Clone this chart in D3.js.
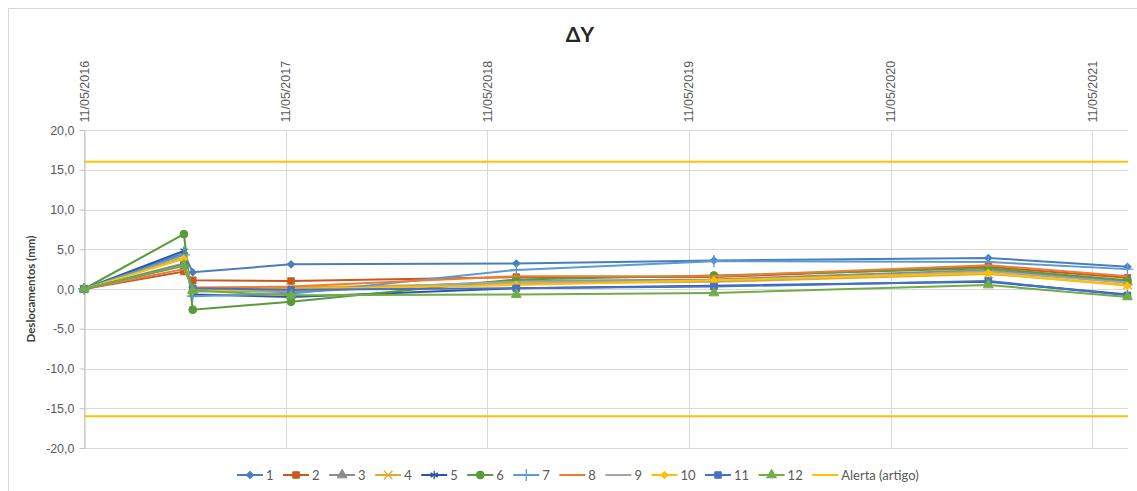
<!DOCTYPE html>
<html lang="pt">
<head>
    <meta charset="UTF-8">
    <title>ΔY</title>
    <script src="https://d3js.org/d3.v7.min.js"></script>
    <style>
        body { margin: 0; background: #fff; }
        svg { font-family: Lato, "Open Sans", sans-serif; }
        .grid line { stroke: #d9d9d9; stroke-width: 1px; }
        .axis path, .axis line { stroke: #bfbfbf; }
        .axis text { fill: #595959; font-size: 12.5px; }
        .serie { fill: none; stroke-width: 2px; }
    </style>
</head>
<body>
<svg id="chart"></svg>
<script>
    // datas das leituras
    const dates = ["2016-05-11", "2016-11-08", "2016-11-24", "2017-05-21", "2018-07-03", "2019-06-26", "2020-11-04", "2021-07-14"];

    // deslocamentos (mm) por ponto
    const s1  = [0, 4.5,  2.1,  3.1,  3.2,  3.6, 3.9,  2.8];
    const s2  = [0, 2.2,  1.1,  1.0,  1.5,  1.5, 2.8,  1.4];
    const s3  = [0, 3.2, -0.1, -0.4,  1.0,  1.2, 2.4,  0.9];
    const s4  = [0, 4.0, -0.3,  0.2,  0.7,  0.9, 1.9,  0.5];
    const s5  = [0, 4.8, -0.7, -1.0,  0.1,  0.4, 0.9, -0.7];
    const s6  = [0, 6.9, -2.6, -1.6,  1.2,  1.7, 2.6,  1.1];
    const s7  = [0, 4.3, -0.9, -0.6,  2.4,  3.5, 3.4,  2.5];
    const s8  = [0, 2.5,  0.2,  0.3,  1.6,  1.6, 3.0,  1.6];
    const s9  = [0, 2.9, -0.3, -0.2,  0.9,  1.0, 2.2,  0.8];
    const s10 = [0, 3.8, -0.2,  0.0,  0.5,  1.1, 2.0,  0.4];
    const s11 = [0, 3.0,  0.1, -0.1,  0.1,  0.3, 1.0, -0.8];
    const s12 = [0, 3.0, -0.2, -0.8, -0.7, -0.5, 0.5, -1.0];

    const seriesNames = ["1", "2", "3", "4", "5", "6", "7", "8", "9", "10", "11", "12"];
    const seriesValues = [s1, s2, s3, s4, s5, s6, s7, s8, s9, s10, s11, s12];

    const alertName = "Alerta (artigo)";
    const alertLevels = [16, -16];

    const xTicks = ["2016-05-11", "2017-05-11", "2018-05-11", "2019-05-11", "2020-05-11", "2021-05-11"];
    const xDomain = ["2016-05-11", "2021-07-15"];
    const yTicks = [20, 15, 10, 5, 0, -5, -10, -15, -20];

    const colors = ["#4a7ebb", "#c65a1e", "#8c8c8c", "#e0a82e", "#2f55a4", "#5a9a3a",
                    "#5b9bd5", "#ed7d31", "#a5a5a5", "#ffc000", "#4472c4", "#70ad47"];
    const alertColor = "#ffc000";
    // tipo de marcador por série (null = sem marcador)
    const markers = ["diamond", "square", "triangle", "times", "asterisk", "circle",
                     "plus", null, null, "diamond", "square", "triangle"];

    const parse = d3.timeParse("%Y-%m-%d");
    const fmtDate = d3.timeFormat("%d/%m/%Y");
    const fmtY = d => d3.format(".1f")(d).replace(".", ",").replace("−", "-");

    const W = 1137, H = 491;
    const plot = { left: 84, right: 1128, top: 130, bottom: 448 };

    const svg = d3.select("#chart").attr("width", W).attr("height", H);

    // borda do gráfico
    svg.append("rect")
        .attr("x", 8.5).attr("y", 8.5)
        .attr("width", W + 20).attr("height", H + 20)
        .attr("fill", "none").attr("stroke", "#d9d9d9");

    const x = d3.scaleTime()
        .domain(xDomain.map(parse))
        .range([plot.left, plot.right]);

    const y = d3.scaleLinear()
        .domain([-20, 20])
        .range([plot.bottom, plot.top]);

    // grelha
    const grid = svg.append("g").attr("class", "grid");
    grid.selectAll(".h").data(yTicks).enter().append("line")
        .attr("x1", plot.left).attr("x2", plot.right)
        .attr("y1", d => Math.round(y(d)) + 0.5).attr("y2", d => Math.round(y(d)) + 0.5);
    grid.selectAll(".v").data(xTicks).enter().append("line")
        .attr("x1", d => Math.round(x(parse(d))) + 0.5).attr("x2", d => Math.round(x(parse(d))) + 0.5)
        .attr("y1", plot.top).attr("y2", plot.bottom);

    // eixo y
    svg.append("g")
        .attr("class", "axis")
        .attr("transform", "translate(" + (plot.left + 0.5) + ",0)")
        .call(d3.axisLeft(y).tickValues(yTicks).tickFormat(fmtY).tickSize(5).tickSizeOuter(0).tickPadding(5));

    // eixo x (rótulos no topo)
    const xAxis = svg.append("g")
        .attr("class", "axis")
        .attr("transform", "translate(0," + (plot.top + 0.5) + ")")
        .call(d3.axisTop(x).tickValues(xTicks.map(parse)).tickFormat(fmtDate).tickSize(0).tickSizeOuter(0));
    xAxis.select(".domain").remove();
    xAxis.selectAll("text")
        .attr("transform", "rotate(-90)")
        .attr("x", 8)
        .attr("y", 0)
        .attr("dy", "0.35em")
        .style("text-anchor", "start");

    // título do eixo y
    svg.append("text")
        .attr("transform", "translate(35," + y(0) + ") rotate(-90)")
        .attr("text-anchor", "middle")
        .attr("font-size", "11.5px")
        .attr("font-weight", "bold")
        .attr("fill", "#404040")
        .text("Deslocamentos (mm)");

    // título
    svg.append("text")
        .attr("x", 580).attr("y", 42)
        .attr("text-anchor", "middle")
        .attr("font-size", "21px")
        .attr("font-weight", "bold")
        .attr("fill", "#262626")
        .text("ΔY");

    const line = d3.line()
        .x(d => x(d.date))
        .y(d => y(d.value));

    // [tipo, área, preenchido, rotação]
    const symbolTypes = {
        diamond: [d3.symbolSquare, 26, true, 45],
        square: [d3.symbolSquare, 42, true, 0],
        triangle: [d3.symbolTriangle, 42, true, 0],
        circle: [d3.symbolCircle, 48, true, 0],
        times: [d3.symbolTimes, 50, false, 0],
        asterisk: [d3.symbolAsterisk, 50, false, 0],
        plus: [d3.symbolPlus, 50, false, 0]
    };

    function drawMarker(g, kind, color, cx, cy) {
        if (!kind) return;
        const t = symbolTypes[kind];
        g.append("path")
            .attr("d", d3.symbol().type(t[0]).size(t[1])())
            .attr("transform", "translate(" + cx + "," + cy + ") rotate(" + t[3] + ")")
            .attr("fill", t[2] ? color : "none")
            .attr("stroke", color)
            .attr("stroke-width", t[2] ? 1 : 1.3);
    }

    const dataG = svg.append("g");
    seriesValues.forEach((vals, i) => {
        const pts = vals.map((v, j) => ({ date: parse(dates[j]), value: v }));
        dataG.append("path")
            .datum(pts)
            .attr("class", "serie")
            .attr("stroke", colors[i])
            .attr("d", line);
        pts.forEach(p => drawMarker(dataG, markers[i], colors[i], x(p.date), y(p.value)));
    });

    // linhas de alerta
    alertLevels.forEach(a => {
        dataG.append("path")
            .datum(xDomain.map(d => ({ date: parse(d), value: a })))
            .attr("class", "serie")
            .attr("stroke", alertColor)
            .attr("d", line);
    });

    // legenda
    const legend = svg.append("g").attr("transform", "translate(0,475)");
    let lx = 237;
    const items = seriesNames.map((n, i) => ({ name: n, color: colors[i], marker: markers[i] }))
        .concat([{ name: alertName, color: alertColor, marker: null }]);
    items.forEach(it => {
        legend.append("line")
            .attr("x1", lx).attr("x2", lx + 26)
            .attr("y1", 0).attr("y2", 0)
            .attr("stroke", it.color).attr("stroke-width", 2);
        drawMarker(legend, it.marker, it.color, lx + 13, 0);
        const t = legend.append("text")
            .attr("x", lx + 29).attr("y", 0)
            .attr("dy", "0.35em")
            .attr("font-size", "13px")
            .attr("fill", "#595959")
            .text(it.name);
        lx += 29 + t.node().getComputedTextLength() + 9.5;
    });
</script>
</body>
</html>
